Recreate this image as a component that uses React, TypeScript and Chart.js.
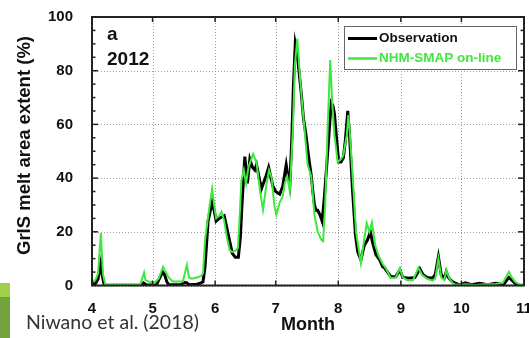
import React, { useEffect, useRef } from "react";
import { Chart, registerables } from "chart.js";
Chart.register(...registerables);

// Day offsets from 1 April 2012 at which each month starts (Apr..Nov)
const monthStartDays = [0, 30, 61, 91, 122, 153, 183, 214];
const monthLabels = ["4", "5", "6", "7", "8", "9", "10", "11"];
const yTickValues = [0, 20, 40, 60, 80, 100];

const seriesNames = ["Observation", "NHM-SMAP on-line"];

// Observation (black)
const obsDays = [0, 1, 2, 3, 4, 4.5, 5, 6, 7, 24, 25.5, 27, 32, 33, 35, 36, 37, 38, 44, 46, 47, 48, 52, 54, 55, 56, 57.5, 59.5, 60.5, 61.5, 63, 65.5, 67.5, 69.5, 71, 72.5, 73.5, 74.3, 75.7, 77, 78.2, 79.5, 80.6, 81.5, 83.9, 86.3, 87.5, 89.6, 91, 93, 94.5, 96.2, 97, 98, 99, 99.8, 100.7, 101.7, 102.5, 103.6, 104.8, 106, 107.3, 108.6, 109.4, 110.2, 111, 111.8, 113.1, 114, 115, 116.5, 118.5, 119.3, 120.1, 121, 122.2, 123.3, 124.5, 125.5, 126.7, 127.5, 129.1, 130.5, 131.6, 133.2, 134.9, 136.5, 137.9, 139, 140.7, 142.5, 144, 145, 148, 150.5, 152.5, 154, 157, 160, 162.4, 164, 166, 168.6, 170, 171.6, 173, 174.5, 175.5, 176.5, 178.5, 182, 185, 188, 192, 196, 200, 204, 206.5, 208, 210, 212, 214];
const obsValues = [1.5, 0.3, 1, 2.5, 7, 9, 4, 0.5, 0, 0, 1, 0.2, 0.3, 2, 5, 4, 1.5, 0.3, 0.3, 1.2, 1, 0.3, 0.5, 1, 1.4, 7, 24, 31, 28, 24, 25, 26, 19, 12, 10.5, 10.5, 18, 30, 48, 38, 47, 44, 43, 45, 36, 41, 44, 37, 35, 34, 37, 45, 41, 37.5, 55, 75, 90, 86, 80, 72, 62, 56, 48, 41, 35, 30, 28, 28, 26, 24, 32, 47, 68, 67, 64, 56, 46, 46, 47.5, 54, 65, 57, 35, 19, 12.6, 9.5, 15, 17, 20, 16, 11.4, 9.5, 7, 6.5, 3.3, 3.3, 5.8, 3, 2.7, 3, 6.2, 4, 3, 2.7, 4, 10.7, 4, 2.7, 5.1, 3, 1.4, 0.2, 1, 0.3, 0.8, 0.3, 0.8, 0.5, 3, 2, 0.5, 0, 0];

// NHM-SMAP on-line (green)
const modelDays = [0, 1, 2, 3, 4.4, 5, 5.5, 6.5, 24, 25.8, 26.5, 28, 31, 33, 35.2, 36.5, 38, 40, 45, 47, 48, 49.5, 52, 54, 55, 56, 57.4, 58.5, 59.5, 60.5, 61.5, 63, 64.2, 65.5, 66.8, 68.2, 69.5, 71, 72.3, 73.3, 74, 75.2, 76.3, 77.5, 79.8, 81.5, 83.4, 84.7, 86.3, 87.7, 89, 90.3, 91.3, 93, 94.4, 95.5, 96.7, 98, 99.5, 100.5, 101.7, 102.8, 104, 105.2, 106.8, 108.6, 110.2, 111.8, 113.6, 114.5, 115.5, 116.8, 118, 119, 120.1, 121.7, 123.3, 124.5, 126.2, 127, 127.8, 129.5, 130.8, 132.3, 133.2, 134.9, 136.1, 137.4, 138.7, 140.3, 142, 144, 145.5, 148, 150.5, 152.5, 154, 156, 159, 161.7, 163.5, 166, 168.6, 170, 171.6, 173, 174.5, 175.5, 176.8, 178.5, 180, 185, 190, 195, 200, 203.5, 206.5, 208, 209.5, 211.4, 214];
const modelValues = [2, 1.5, 2.5, 4.5, 19.5, 10, 4, 0.5, 0.5, 4.8, 2, 1.5, 1, 2.5, 7, 5, 3, 1.5, 1.5, 7.6, 3, 2.5, 3, 3.5, 4.5, 17, 25, 31, 36, 30, 25, 26, 27.5, 24, 18, 13.2, 12.5, 13, 14, 28, 39, 43, 38, 44, 49, 45.7, 34.4, 28.2, 37, 43, 40, 30, 26.3, 31, 33, 38, 40.6, 35, 58, 82, 92, 80, 68.6, 58.7, 45, 40.6, 26.3, 20, 17, 16.5, 30, 60, 84, 68, 56, 46, 47, 48.5, 56, 63.5, 56, 36, 20, 12.6, 8.3, 17.6, 23.2, 20, 23.5, 15, 11, 8, 6.5, 2.7, 3, 6.4, 3, 2, 2, 6.6, 4, 2.5, 1.8, 2.5, 10.1, 3, 2, 5.8, 3, 1, 0.3, 0.5, 0.2, 0.5, 0.6, 1, 5.1, 3, 1.5, 0.5, 0.3];

const FONT = "'Liberation Sans', Arial, Helvetica, sans-serif";
const GREEN = "#3ee83e";

const decorPlugin = {
  id: "decor",
  beforeDatasetsDraw(chart: any) {
    const { ctx, chartArea: a, scales } = chart;
    const x = scales.x;
    const y = scales.y;
    ctx.save();
    ctx.strokeStyle = "#a0a0a0";
    ctx.lineWidth = 1;
    ctx.setLineDash([1, 2]);
    monthStartDays.forEach((d) => {
      const px = Math.round(x.getPixelForValue(d)) + 0.5;
      ctx.beginPath();
      ctx.moveTo(px, a.top);
      ctx.lineTo(px, a.bottom);
      ctx.stroke();
    });
    yTickValues.forEach((v) => {
      const py = Math.round(y.getPixelForValue(v)) + 0.5;
      ctx.beginPath();
      ctx.moveTo(a.left, py);
      ctx.lineTo(a.right, py);
      ctx.stroke();
    });
    ctx.restore();
  },
  afterDraw(chart: any) {
    const { ctx, chartArea: a, scales } = chart;
    const x = scales.x;
    const y = scales.y;
    ctx.save();
    const line = (x1: number, y1: number, x2: number, y2: number) => {
      ctx.beginPath();
      ctx.moveTo(x1, y1);
      ctx.lineTo(x2, y2);
      ctx.stroke();
    };
    // inward ticks
    ctx.strokeStyle = "#222";
    ctx.lineWidth = 1.5;
    monthStartDays.forEach((d) => {
      const px = x.getPixelForValue(d);
      line(px, a.bottom, px, a.bottom - 5);
      line(px, a.top, px, a.top + 5);
    });
    for (let v = 5; v < 100; v += 5) {
      const py = y.getPixelForValue(v);
      const len = v % 20 === 0 ? 6 : 3.5;
      line(a.left, py, a.left + len, py);
      line(a.right, py, a.right - len, py);
    }
    // frame
    ctx.lineWidth = 2;
    ctx.strokeStyle = "#222";
    ctx.strokeRect(a.left, a.top, a.right - a.left, a.bottom - a.top);

    // panel label
    ctx.fillStyle = "#111";
    ctx.font = `bold 19px ${FONT}`;
    ctx.textAlign = "left";
    ctx.textBaseline = "alphabetic";
    ctx.fillText("a", 107, 40);
    ctx.fillText("2012", 107, 65);

    // legend
    ctx.fillStyle = "#fff";
    ctx.fillRect(344.5, 26.5, 172, 43);
    ctx.strokeStyle = "#666";
    ctx.lineWidth = 1;
    ctx.strokeRect(344.5, 26.5, 172, 43);
    ctx.lineWidth = 3;
    ctx.strokeStyle = "#000";
    line(348, 38.5, 377, 38.5);
    ctx.lineWidth = 2.5;
    ctx.strokeStyle = GREEN;
    line(348, 58.5, 377, 58.5);
    ctx.font = `bold 13.5px ${FONT}`;
    ctx.textBaseline = "middle";
    ctx.fillStyle = "#111";
    ctx.fillText(seriesNames[0], 379, 38.5);
    ctx.fillStyle = GREEN;
    ctx.fillText(seriesNames[1], 379, 58.5);

    // axis titles
    ctx.fillStyle = "#111";
    ctx.font = `bold 18px ${FONT}`;
    ctx.textAlign = "center";
    ctx.textBaseline = "middle";
    ctx.fillText("Month", (a.left + a.right) / 2, 325);
    ctx.save();
    ctx.translate(25, 145.5);
    ctx.rotate(-Math.PI / 2);
    ctx.font = `bold 18.5px ${FONT}`;
    ctx.fillText("GrIS melt area extent (%)", 0, 0);
    ctx.restore();

    // source note & side bar
    ctx.fillStyle = "#a2cf4a";
    ctx.fillRect(0, 283, 10, 14);
    ctx.fillStyle = "#72a23c";
    ctx.fillRect(0, 297, 10, 41);
    ctx.fillStyle = "#333";
    ctx.font = `19.5px Lato, 'Open Sans', sans-serif`;
    ctx.textAlign = "left";
    ctx.textBaseline = "alphabetic";
    ctx.fillText("Niwano et al. (2018)", 26, 329);
    ctx.restore();
  },
};

export default function App() {
  const ref = useRef<HTMLCanvasElement | null>(null);
  useEffect(() => {
    document.body.style.margin = "0";
    if (!ref.current) return;
    const chart = new Chart(ref.current, {
      type: "line",
      data: {
        datasets: [
          {
            label: seriesNames[0],
            data: obsDays.map((d, i) => ({ x: d, y: obsValues[i] })),
            borderColor: "#000",
            borderWidth: 3,
            pointRadius: 0,
            tension: 0,
            order: 2,
          },
          {
            label: seriesNames[1],
            data: modelDays.map((d, i) => ({ x: d, y: modelValues[i] })),
            borderColor: GREEN,
            borderWidth: 2,
            pointRadius: 0,
            tension: 0,
            order: 1,
          },
        ],
      },
      options: {
        animation: false,
        responsive: true,
        maintainAspectRatio: false,
        layout: { padding: { left: 0, top: 17, right: 5, bottom: 0 } },
        plugins: { legend: { display: false }, tooltip: { enabled: false } },
        scales: {
          x: {
            type: "linear",
            min: 0,
            max: 214,
            afterBuildTicks: (s: any) => {
              s.ticks = monthStartDays.map((v) => ({ value: v }));
            },
            afterFit: (s: any) => {
              s.height = 52.5;
              s.paddingLeft = 0;
              s.paddingRight = 0;
            },
            grid: { display: false },
            border: { display: false },
            ticks: {
              autoSkip: false,
              maxRotation: 0,
              padding: 6,
              color: "#111",
              font: { family: FONT, size: 15, weight: "bold" },
              callback: (v: any) => {
                const i = monthStartDays.indexOf(Number(v));
                return i >= 0 ? monthLabels[i] : "";
              },
            },
          },
          y: {
            min: 0,
            max: 100,
            afterBuildTicks: (s: any) => {
              s.ticks = yTickValues.map((v) => ({ value: v }));
            },
            afterFit: (s: any) => {
              s.width = 92;
              s.paddingTop = 0;
              s.paddingBottom = 0;
            },
            grid: { display: false },
            border: { display: false },
            ticks: {
              padding: 11,
              color: "#111",
              font: { family: FONT, size: 15, weight: "bold" },
            },
          },
        },
      },
      plugins: [decorPlugin],
    });
    return () => chart.destroy();
  }, []);
  return (
    <div style={{ width: 529, height: 338, position: "relative", background: "#fff" }}>
      <canvas ref={ref} />
    </div>
  );
}
